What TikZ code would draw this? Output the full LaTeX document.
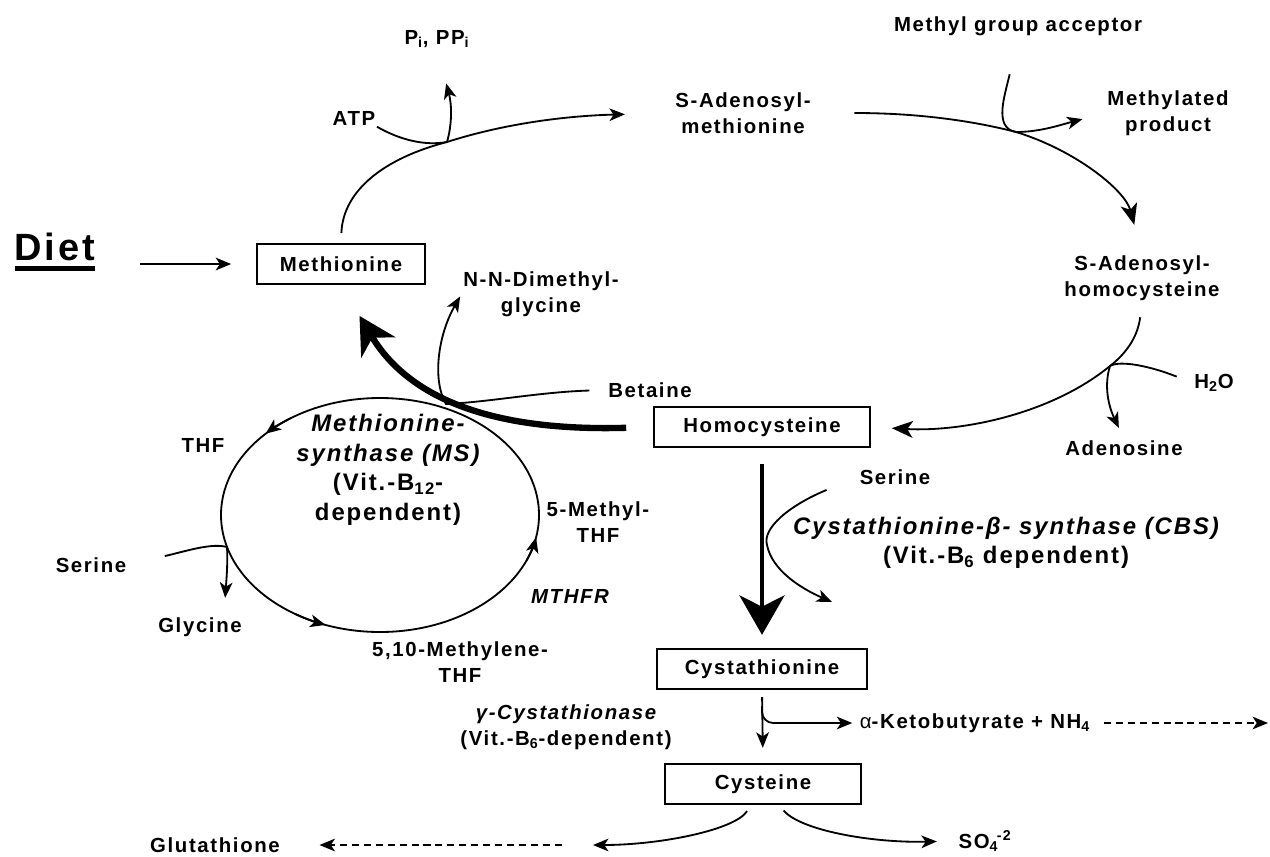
\documentclass[tikz,border=0pt]{standalone}
\usepackage{fontspec}
\setmainfont{Liberation Sans}[LetterSpace=8.0]
\usetikzlibrary{arrows.meta}

\newcommand\lblfont{\fontsize{14.5}{18.5}\selectfont\bfseries}
\newcommand\enzfont{\fontsize{17}{21}\selectfont\bfseries}
\newcommand\dietfont{\fontsize{27}{30}\selectfont\bfseries}
\newcommand\thickul[1]{\setbox0\hbox{#1}\rlap{\rule[-7pt]{\wd0}{3pt}}\box0}

\begin{document}
\begin{tikzpicture}[
  x=0.025cm, y=-0.025cm,
  box/.style={rectangle, draw=black, line width=1.4pt, inner sep=0pt,
              minimum height=1cm, font=\lblfont},
  lbl/.style={font=\lblfont, align=center, inner sep=1pt},
  enz/.style={font=\enzfont, align=center, inner sep=1pt},
  line/.style={line width=1.3pt},
  arrow/.style={-{Stealth[length=11pt, width=9pt, inset=3pt]}, line width=1.3pt},
  bigarrow/.style={-{Stealth[length=15pt, width=12pt, inset=4pt]}, line width=1.3pt},
  heavy/.style={-{Stealth[length=26pt, width=28pt, inset=8pt]}, line width=4.5pt},
  dashedarrow/.style={arrow, dash pattern=on 5pt off 3.5pt}
]
\useasboundingbox (0,0) rectangle (1270,856);

% ---- boxes ----
\node[box, minimum width=4.18cm] (met)   at (341,264) {Methionine};
\node[box, minimum width=5.38cm] (hcy)   at (762,427) {Homocysteine};
\node[box, minimum width=5.25cm] (cysta) at (762,669) {Cystathionine};
\node[box, minimum width=4.9cm]  (cys)   at (763,784) {Cysteine};

% ---- labels ----
\node[font=\dietfont, inner sep=1pt] (diet) at (55,252) {\thickul{Diet}};
\node[lbl] (pipi)  at (437,39)   {P\textsubscript{i}, PP\textsubscript{i}};
\node[lbl] (atp)   at (354,118)  {ATP};
\node[lbl] (sam)   at (743,113)  {S-Adenosyl-\\methionine};
\node[lbl] (acc)   at (1018,26)  {Methyl group acceptor};
\node[lbl] (mprod) at (1168,113) {Methylated\\product};
\node[lbl] (sah)   at (1142,278) {S-Adenosyl-\\homocysteine};
\node[lbl] (h2o)   at (1214,383) {H\textsubscript{2}O};
\node[lbl] (ado)   at (1124,448) {Adenosine};
\node[lbl] (nndmg) at (541,294)  {N-N-Dimethyl-\\glycine};
\node[lbl] (bet)   at (650,390)  {Betaine};
\node[lbl] (thf)   at (203,445)  {THF};
\node[lbl] (mthf)  at (598,522)  {5-Methyl-\\THF};
\node[lbl] (mthfr) at (570,596)  {\itshape MTHFR};
\node[lbl] (serl)  at (91,565)   {Serine};
\node[lbl] (gly)   at (200,627)  {Glycine};
\node[lbl] (mlthf) at (460,662)  {5,10-Methylene-\\THF};
\node[lbl] (serr)  at (895,477)  {Serine};
\node[lbl] (gcyst) at (566,727)  {{\itshape γ-Cystathionase}\\(Vit.-B\textsubscript{6}-dependent)};
\node[lbl] (keto)  at (975,723)  {{\mdseries α}-Ketobutyrate + NH\textsubscript{4}};
\node[lbl] (glut)  at (215,845)  {Glutathione};
\node[lbl] (so4)   at (985,841)  {SO\textsubscript{4}\kern-1pt\textsuperscript{-2}};
\node[enz] (ms)    at (388,470)  {{\itshape Methionine-}\\{\itshape synthase (MS)}\\(Vit.-B\textsubscript{12}-\\dependent)};
\node[enz] (cbs)   at (1006,543) {{\itshape Cystathionine-β- synthase (CBS)}\\(Vit.-B\textsubscript{6} dependent)};

% ---- junctions and free ends ----
\coordinate (jatp) at (447,142);
\coordinate (jme)  at (1016,132);
\coordinate (jh2o) at (1110,366);
\coordinate (jbet) at (446,404);
\coordinate (jser) at (227,547);
\coordinate (jcbs) at (767,545);
\coordinate (cbsout) at (832,602);
\coordinate (ketoout) at (1268,723);
\coordinate (gshtip) at (593,845);
\coordinate (gshdash) at (562,845);
\coordinate (msc) at (380,515);

% ---- methionine cycle ----
\draw[arrow, shorten <=1.08cm, shorten >=0.63cm] (diet.east |- met.west) -- (met.west);
\draw[arrow, shorten <=0.25cm, shorten >=1.22cm] (met.north)
  .. controls (343,190) and (385,158) .. (jatp)
  .. controls (500,125) and (560,116) .. (sam.west);
\draw[line] (atp.south east) .. controls (400,140) and (425,146) .. (jatp);
\draw[arrow, shorten >=0.88cm] (jatp) .. controls (452,125) and (452,105) .. (pipi.south);

\draw[bigarrow, shorten <=1.05cm, shorten >=0.75cm] (sam.east)
  .. controls (930,113) and (985,124) .. (jme)
  .. controls (1075,150) and (1125,190) .. (sah.north);
\draw[arrow, shorten <=0.95cm, shorten >=0.6cm] (acc.south)
  .. controls (1005,95) and (993,128) .. (jme)
  .. controls (1040,132) and (1060,125) .. (mprod.west);

\draw[bigarrow, shorten <=0.38cm, shorten >=0.53cm] (sah.south)
  .. controls (1138,335) and (1128,352) .. (jh2o)
  .. controls (1050,415) and (960,432) .. (hcy.east);
\draw[arrow, shorten <=0.43cm, shorten >=0.3cm] (h2o.west)
  .. controls (1150,366) and (1120,360) .. (jh2o)
  .. controls (1104,385) and (1108,405) .. (ado.north);

% ---- remethylation ----
\draw[heavy, shorten <=0.68cm, shorten >=0.9cm] (hcy.west)
  .. controls (480,432) and (405,392) .. (met.south);
\draw[arrow, shorten <=0.43cm, shorten >=2pt] (bet.west)
  .. controls (540,392) and (490,402) .. (jbet)
  .. controls (432,380) and (438,335) .. (nndmg.west);

% folate cycle
\draw[line] (msc) ellipse [x radius=159, y radius=117];
\draw[arrow] (291.1,418.0) arc [start angle=236, end angle=224, x radius=159, y radius=117];
\draw[arrow] (295.7,614.2) arc [start angle=122, end angle=110, x radius=159, y radius=117];
\draw[arrow] (526.4,560.7) arc [start angle=23, end angle=11, x radius=159, y radius=117];
\draw[arrow, shorten <=0.95cm, shorten >=0.45cm] (serl.east)
  .. controls (190,550) and (212,543) .. (jser)
  .. controls (228,565) and (226,585) .. ([xshift=0.6cm]gly.north);

% ---- transsulfuration ----
\draw[heavy, line width=3.5pt, -{Stealth[length=28pt, width=32pt, inset=8pt]},
      shorten <=0.4cm, shorten >=0.33cm] (hcy.south) -- (cysta.north);
\draw[arrow, shorten <=0.85cm] (serr.west)
  .. controls (790,505) and (762,528) .. (jcbs)
  .. controls (772,570) and (800,588) .. (cbsout);

\draw[arrow, shorten <=0.18cm, shorten >=0.38cm] (cysta.south) -- (cys.north);
\coordinate (jket) at (762,706);
\draw[arrow, rounded corners=8pt, shorten >=0.15cm] (jket) |- (keto.west);
\draw[dashedarrow, shorten <=0.3cm] (keto.east) -- (ketoout);

\draw[arrow, shorten <=0.18cm] ([xshift=-0.3cm]cys.south)
  .. controls (735,830) and (660,845) .. (gshtip);
\draw[dashedarrow, shorten >=0.95cm] (gshdash) -- (glut.east);
\draw[arrow, shorten <=0.18cm, shorten >=0.5cm] ([xshift=0.4cm]cys.south)
  .. controls (800,830) and (870,843) .. (so4.west);

\end{tikzpicture}
\end{document}
